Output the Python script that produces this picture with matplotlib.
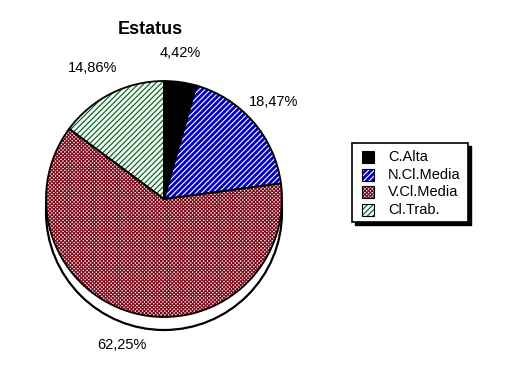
import matplotlib.pyplot as plt
from matplotlib.patches import Circle, Rectangle

plt.rcParams['font.family'] = ['Liberation Sans', 'DejaVu Sans']
plt.rcParams['hatch.linewidth'] = 0.8

labels = ['C.Alta', 'N.Cl.Media', 'V.Cl.Media', 'Cl.Trab.']
values = [4.42, 18.47, 62.25, 14.86]
pct_text = ['4,42%', '18,47%', '62,25%', '14,86%']

faces = ['black', '#0000c4', '#f8e4e4', '#eafcea']
hatch_cols = ['black', 'white', '#7a0a1a', '#144e2a']
hatches = [None, '//////', 'xxxxxxxxx', '//////']

W, H = 513, 383
fig = plt.figure(figsize=(W / 100, H / 100), dpi=100)
ax = fig.add_axes([0, 0, 1, 1])

cx, cy, r = 164, H - 199, 118
depth = 13

# side of the "3d" pie
ax.add_patch(Circle((cx, cy - depth), r, facecolor='white', edgecolor='black',
                    linewidth=1.6, zorder=1))

# filled + hatched wedges (hatch drawn in edge color, no outline)
wedges, _ = ax.pie(values, startangle=90, counterclock=False,
                   center=(cx, cy), radius=r, frame=True)
for w, fc, hc, h in zip(wedges, faces, hatch_cols, hatches):
    w.set_facecolor(fc)
    w.set_edgecolor(hc)
    w.set_linewidth(0)
    w.set_hatch(h)
    w.set_zorder(2)

# black outlines on top
outl, _ = ax.pie(values, startangle=90, counterclock=False,
                 center=(cx, cy), radius=r, frame=True,
                 wedgeprops=dict(facecolor='none', edgecolor='black', linewidth=1.3))
for w in outl:
    w.set_zorder(3)

# percentage labels
label_pos = [(180, 53), (274, 102), (122, 345), (93, 68)]
for (x, y), t in zip(label_pos, pct_text):
    ax.text(x, H - y, t, ha='center', va='center', fontsize=10.5)

ax.text(150, H - 29, 'Estatus', ha='center', va='center', fontsize=13,
        fontweight='bold')

# legend box with shadow
lx0, ly0, lx1, ly1 = 352, 143, 468, 222
ax.add_patch(Rectangle((lx0 + 3, H - ly1 - 3), lx1 - lx0, ly1 - ly0,
                       facecolor='black', edgecolor='black', zorder=4))
ax.add_patch(Rectangle((lx0, H - ly1), lx1 - lx0, ly1 - ly0,
                       facecolor='white', edgecolor='black', linewidth=1.2, zorder=5))
rows = [157, 175, 192, 210]
for y, lab, fc, hc, h in zip(rows, labels, faces, hatch_cols, hatches):
    ax.add_patch(Rectangle((362, H - y - 6), 12, 12, facecolor=fc, edgecolor=hc,
                           linewidth=0, hatch=h, zorder=6))
    ax.add_patch(Rectangle((362, H - y - 6), 12, 12, facecolor='none',
                           edgecolor='black', linewidth=0.8, zorder=7))
    ax.text(388, H - y, lab, ha='left', va='center', fontsize=10.5, zorder=7)

ax.set_xlim(0, W)
ax.set_ylim(0, H)
ax.set_aspect('auto')
ax.axis('off')

fig.savefig('out.png', dpi=100)
